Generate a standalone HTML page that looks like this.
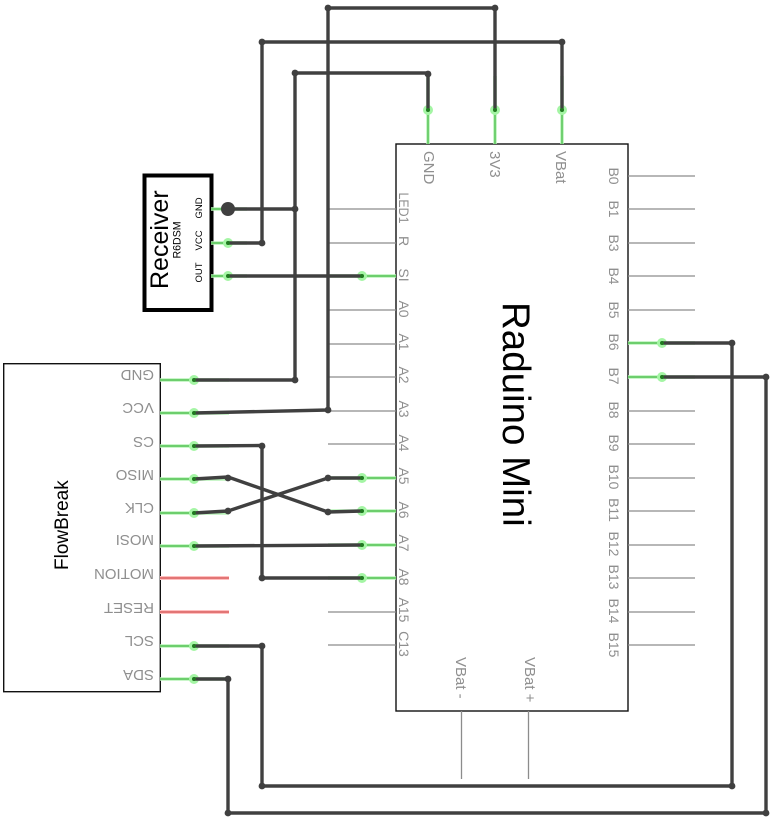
<!DOCTYPE html>
<html>
<head>
<meta charset="utf-8">
<style>
html,body{margin:0;padding:0;background:#fff;}
svg{display:block;}
text{font-family:"Liberation Sans",sans-serif;}
.l{fill:#8f8f8f;font-size:14px;}
.g{stroke:#8c8c8c;stroke-width:1.3;fill:none;}
.w{stroke:#404040;stroke-width:3.4;fill:none;stroke-linejoin:round;}
.d{fill:#404040;}
.gg{stroke:#b8f3b8;stroke-width:3.5;fill:none;}
.gc{stroke:#40b840;stroke-width:1.2;fill:none;}
.h{fill:#a4f5a4;}
.c{fill:#1f7a1f;}
</style>
</head>
<body>
<svg width="773" height="824" viewBox="0 0 773 824" xmlns="http://www.w3.org/2000/svg">
<rect width="773" height="824" fill="#fff"/>

<!-- Raduino body -->
<rect x="396" y="144" width="232" height="567" fill="#fff" stroke="#111" stroke-width="1.4"/>
<!-- FlowBreak body -->
<rect x="3.7" y="363.7" width="156.6" height="328" fill="#fff" stroke="#111" stroke-width="1.4"/>
<!-- Receiver body -->
<rect x="144.5" y="175.5" width="67" height="134.5" fill="#fff" stroke="#000" stroke-width="4"/>

<!-- Grey pins -->
<path class="g" d="M328 209H396M328 243H396M328 310H396M328 344H396M328 377H396M328 411H396M328 444H396M328 612H396M328 645H396"/>
<path class="g" d="M628 176H695M628 209H695M628 243H695M628 276H695M628 310H695M628 411H695M628 444H695M628 478H695M628 511H695M628 545H695M628 578H695M628 612H695M628 645H695"/>
<path class="g" d="M461.500 711V779M528.500 711V779"/>

<!-- Green pin glows -->
<path class="gg" d="M211 209H247M211 243H247M211 276H247"/>
<path class="gg" d="M328 276H396M328 478H396M328 511H396M328 545H396M328 578H396"/>
<path class="gg" d="M628 343H695M628 377H695"/>
<path class="gg" d="M428 76V144M495 76V144M562 76V144"/>
<path class="gg" d="M160 380H229M160 413H229M160 446H229M160 479H229M160 513H229M160 546H229M160 646H229M160 679H229"/>
<path d="M160 578H229M160 612H229" stroke="#ffc0c0" stroke-width="4" fill="none"/>
<path d="M160 578H229M160 612H229" stroke="#d04848" stroke-width="1.2" fill="none"/>

<!-- Green pin cores -->
<path class="gc" d="M211 209H228M211 243H228M211 276H228"/>
<path class="gc" d="M362 276H396M362 478H396M362 511H396M362 545H396M362 578H396"/>
<path class="gc" d="M628 343H662M628 377H662"/>
<path class="gc" d="M428 110V144M495 110V144M562 110V144"/>
<path class="gc" d="M160 380H194M160 413H194M160 446H194M160 479H194M160 513H194M160 546H194M160 646H194M160 679H194"/>

<!-- Halos -->
<g class="h">
<circle cx="228" cy="243" r="5"/><circle cx="228" cy="276" r="5"/>
<circle cx="362" cy="276" r="5"/><circle cx="362" cy="478" r="5"/><circle cx="362" cy="511" r="5"/><circle cx="362" cy="545" r="5"/><circle cx="362" cy="578" r="5"/>
<circle cx="662" cy="343" r="5"/><circle cx="662" cy="377" r="5"/>
<circle cx="428" cy="110" r="5"/><circle cx="495" cy="110" r="5"/><circle cx="562" cy="110" r="5"/>
<circle cx="194" cy="380" r="5"/><circle cx="194" cy="413" r="5"/><circle cx="194" cy="446" r="5"/><circle cx="194" cy="479" r="5"/><circle cx="194" cy="513" r="5"/><circle cx="194" cy="546" r="5"/><circle cx="194" cy="646" r="5"/><circle cx="194" cy="679" r="5"/>
</g>

<!-- Wires -->
<path class="w" d="M428 110V73H295V380H194"/>
<path class="w" d="M228 209H295"/>
<path class="w" d="M562 110V42H262V243H228"/>
<path class="w" d="M495 110V8H328V410L194 413"/>
<path class="w" d="M194 446L262 445.500V578H362"/>
<path class="w" d="M194 479L228 477L328 512L362 511"/>
<path class="w" d="M194 513L228 511L328 478H362"/>
<path class="w" d="M194 546L362 545"/>
<path class="w" d="M194 646H262V786H732V343H662"/>
<path class="w" d="M194 679H228V813H766V377H662"/>
<path class="w" d="M228 276H362"/>

<!-- Junction dots -->
<g class="d">
<circle cx="428" cy="74" r="3.400"/><circle cx="295" cy="73" r="3.400"/><circle cx="295" cy="209" r="3.400"/><circle cx="295" cy="380" r="3.400"/>
<circle cx="562" cy="42" r="3.400"/><circle cx="262" cy="42" r="3.400"/><circle cx="262" cy="243" r="3.400"/>
<circle cx="495" cy="8" r="3.400"/><circle cx="328" cy="8" r="3.400"/><circle cx="328" cy="410" r="3.400"/>
<circle cx="262" cy="446" r="3.400"/><circle cx="262" cy="578" r="3.400"/>
<circle cx="228" cy="478" r="3.400"/><circle cx="228" cy="511" r="3.400"/><circle cx="328" cy="478" r="3.400"/><circle cx="328" cy="512" r="3.400"/>
<circle cx="262" cy="646" r="3.400"/><circle cx="228" cy="679" r="3.400"/><circle cx="228" cy="813" r="3.400"/><circle cx="262" cy="786" r="3.400"/>
<circle cx="732" cy="786" r="3.400"/><circle cx="732" cy="343" r="3.400"/><circle cx="766" cy="813" r="3.400"/><circle cx="766" cy="377" r="3.400"/>
<circle cx="228" cy="209" r="7"/>
</g>

<!-- Wire-end centres -->
<g class="c">
<circle cx="228" cy="243" r="2"/><circle cx="228" cy="276" r="2"/>
<circle cx="362" cy="276" r="2"/><circle cx="362" cy="478" r="2"/><circle cx="362" cy="511" r="2"/><circle cx="362" cy="545" r="2"/><circle cx="362" cy="578" r="2"/>
<circle cx="662" cy="343" r="2"/><circle cx="662" cy="377" r="2"/>
<circle cx="428" cy="110" r="2"/><circle cx="495" cy="110" r="2"/><circle cx="562" cy="110" r="2"/>
<circle cx="194" cy="380" r="2"/><circle cx="194" cy="413" r="2"/><circle cx="194" cy="446" r="2"/><circle cx="194" cy="479" r="2"/><circle cx="194" cy="513" r="2"/><circle cx="194" cy="546" r="2"/><circle cx="194" cy="646" r="2"/><circle cx="194" cy="679" r="2"/>
</g>

<!-- Top labels -->
<text class="l" style="font-size:15px" transform="translate(424 151) rotate(90)">GND</text>
<text class="l" style="font-size:15px" transform="translate(490 151) rotate(90)">3V3</text>
<text class="l" style="font-size:15px" transform="translate(556 151) rotate(90)">VBat</text>

<!-- Left labels of Raduino -->
<g class="l" text-anchor="middle">
<text transform="translate(399 208) rotate(90)" textLength="31" lengthAdjust="spacingAndGlyphs">LED1</text>
<text transform="translate(399 241) rotate(90)">R</text>
<text transform="translate(399 275) rotate(90)">SI</text>
<text transform="translate(399 309) rotate(90)">A0</text>
<text transform="translate(399 342) rotate(90)">A1</text>
<text transform="translate(399 375) rotate(90)">A2</text>
<text transform="translate(399 409) rotate(90)">A3</text>
<text transform="translate(399 443) rotate(90)">A4</text>
<text transform="translate(399 476) rotate(90)">A5</text>
<text transform="translate(399 510) rotate(90)">A6</text>
<text transform="translate(399 543) rotate(90)">A7</text>
<text transform="translate(399 577) rotate(90)">A8</text>
<text transform="translate(399 610) rotate(90)">A15</text>
<text transform="translate(399 644) rotate(90)">C13</text>
</g>

<!-- Right labels of Raduino -->
<g class="l" text-anchor="middle">
<text transform="translate(609 176) rotate(90)">B0</text>
<text transform="translate(609 209) rotate(90)">B1</text>
<text transform="translate(609 243) rotate(90)">B3</text>
<text transform="translate(609 276) rotate(90)">B4</text>
<text transform="translate(609 310) rotate(90)">B5</text>
<text transform="translate(609 342) rotate(90)">B6</text>
<text transform="translate(609 376) rotate(90)">B7</text>
<text transform="translate(609 410) rotate(90)">B8</text>
<text transform="translate(609 443) rotate(90)">B9</text>
<text transform="translate(609 477) rotate(90)">B10</text>
<text transform="translate(609 510) rotate(90)">B11</text>
<text transform="translate(609 544) rotate(90)">B12</text>
<text transform="translate(609 577) rotate(90)">B13</text>
<text transform="translate(609 611) rotate(90)">B14</text>
<text transform="translate(609 645) rotate(90)">B15</text>
</g>

<!-- Bottom labels -->
<text class="l" style="font-size:15px" transform="translate(456 657) rotate(90)">VBat -</text>
<text class="l" style="font-size:15px" transform="translate(525 657) rotate(90)">VBat +</text>

<!-- FlowBreak pin labels -->
<g class="l" style="font-size:15px">
<text transform="translate(154 370) rotate(180)">GND</text>
<text transform="translate(154 403) rotate(180)">VCC</text>
<text transform="translate(154 437) rotate(180)">CS</text>
<text transform="translate(154 470) rotate(180)">MISO</text>
<text transform="translate(154 503) rotate(180)">CLK</text>
<text transform="translate(154 535) rotate(180)">MOSI</text>
<text transform="translate(154 569) rotate(180)">MOTION</text>
<text transform="translate(154 603) rotate(180)">RESET</text>
<text transform="translate(154 636) rotate(180)">SCL</text>
<text transform="translate(154 670) rotate(180)">SDA</text>
</g>

<!-- Titles -->
<text transform="translate(503 302) rotate(90)" font-size="38.500" fill="#000">Raduino Mini</text>
<text transform="translate(68 570) rotate(-90)" font-size="19" fill="#000">FlowBreak</text>
<text transform="translate(168 289) rotate(-90)" font-size="25" fill="#000">Receiver</text>
<text transform="translate(180.500 258.500) rotate(-90)" font-size="10.600" fill="#000">R6DSM</text>
<text transform="translate(202 218.500) rotate(-90)" font-size="9.500" fill="#000">GND</text>
<text transform="translate(202 250.500) rotate(-90)" font-size="9.500" fill="#000">VCC</text>
<text transform="translate(202 282.500) rotate(-90)" font-size="9.500" fill="#000">OUT</text>
</svg>
</body>
</html>
